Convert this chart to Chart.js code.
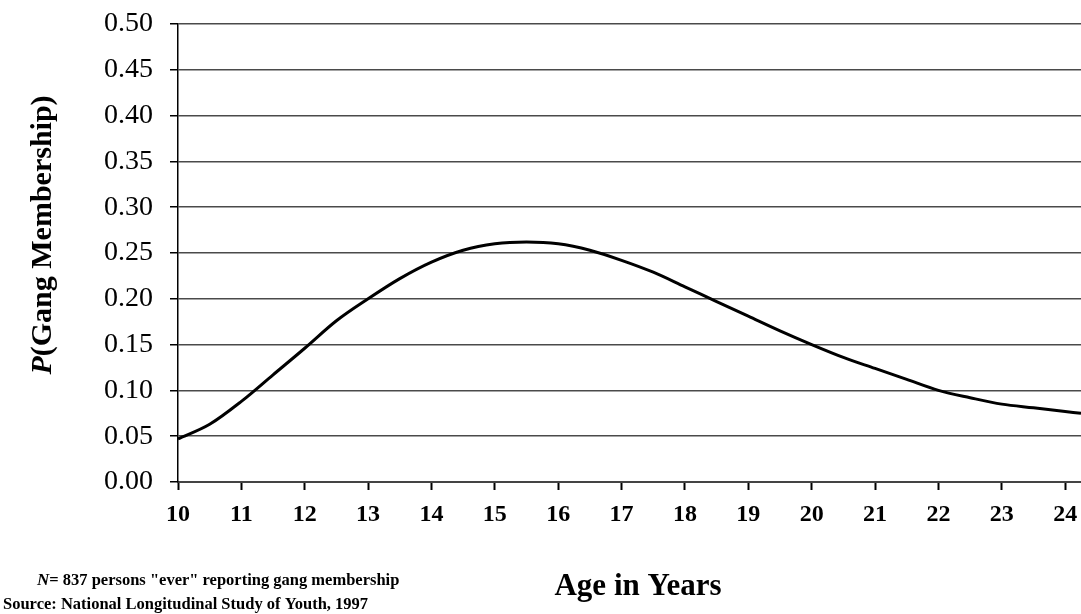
<!DOCTYPE html>
<html>
<head>
<meta charset="utf-8">
<script src="https://cdn.jsdelivr.net/npm/chart.js@4"></script>
<style>
  html, body { margin: 0; padding: 0; background: #fff; }
  #wrap { width: 1081px; height: 614px; }
</style>
</head>
<body>
<div id="wrap"><canvas id="c" width="1081" height="614"></canvas></div>
<script>
// ── DATA ─────────────────────────────────────────────────────
const ages  = [10, 10.5, 11, 11.5, 12, 12.5, 13, 13.5, 14, 14.5, 15, 15.5, 16, 16.5, 17,
               17.5, 18, 18.5, 19, 19.5, 20, 20.5, 21, 21.5, 22, 22.5, 23, 23.5, 24, 24.25];
const probs = [0.047, 0.063, 0.088, 0.117, 0.146, 0.176, 0.200, 0.222, 0.240, 0.253, 0.260, 0.262,
               0.260, 0.253, 0.242, 0.229, 0.213, 0.197, 0.181, 0.165, 0.150, 0.136, 0.124, 0.112,
               0.100, 0.092, 0.085, 0.081, 0.077, 0.075];
const xTicks = [10, 11, 12, 13, 14, 15, 16, 17, 18, 19, 20, 21, 22, 23, 24];
const yTicks = [0, 0.05, 0.10, 0.15, 0.20, 0.25, 0.30, 0.35, 0.40, 0.45, 0.50];

const SERIF = '"Liberation Serif", "Times New Roman", serif';

// ── TEXT PLUGIN (titles + footnote) ──────────────────────────
function mixedText(ctx, parts, x, y, align) {
  // parts: [[text, font], ...]
  let total = 0;
  parts.forEach(p => { ctx.font = p[1]; total += ctx.measureText(p[0]).width; });
  let cx = align === 'center' ? x - total / 2 : x;
  ctx.textAlign = 'left';
  parts.forEach(p => {
    ctx.font = p[1];
    ctx.fillText(p[0], cx, y);
    cx += ctx.measureText(p[0]).width;
  });
}

const textPlugin = {
  id: 'texts',
  afterDraw(chart) {
    const ctx = chart.ctx;
    ctx.save();
    ctx.fillStyle = '#000';
    ctx.textBaseline = 'middle';

    // y title
    ctx.save();
    ctx.translate(43, 235);
    ctx.rotate(-Math.PI / 2);
    mixedText(ctx, [['P', 'italic bold 30px ' + SERIF], ['(Gang Membership)', 'bold 30px ' + SERIF]], 0, 0, 'center');
    ctx.restore();

    // x title
    mixedText(ctx, [['Age in Years', 'bold 31px ' + SERIF]], 638, 587, 'center');

    // footnote
    mixedText(ctx, [['N', 'italic bold 17px ' + SERIF],
                    ['= 837 persons "ever" reporting gang membership', 'bold 16.5px ' + SERIF]], 37, 581, 'left');
    mixedText(ctx, [['Source: National Longitudinal Study of Youth, 1997', 'bold 16.5px ' + SERIF]], 3, 605, 'left');
    ctx.restore();
  }
};

// ── CHART ────────────────────────────────────────────────────
new Chart(document.getElementById('c'), {
  type: 'line',
  data: {
    datasets: [{
      data: ages.map((a, i) => ({ x: a, y: probs[i] })),
      borderColor: '#000',
      borderWidth: 3,
      pointRadius: 0,
      fill: false,
      cubicInterpolationMode: 'monotone'
    }]
  },
  options: {
    responsive: false,
    animation: false,
    layout: { padding: { top: 24, right: 0, left: 0, bottom: 0 } },
    plugins: { legend: { display: false }, tooltip: { enabled: false } },
    scales: {
      x: {
        type: 'linear',
        min: 10, max: 24.25,
        afterFit: s => { s.height = 132; s.paddingLeft = 0; s.paddingRight = 0; },
        afterBuildTicks: s => { s.ticks = xTicks.map(v => ({ value: v })); },
        grid: { drawOnChartArea: false, drawTicks: true, tickLength: 8, color: '#000', tickWidth: 2 },
        border: { color: '#444', width: 2 },
        ticks: {
          color: '#000', padding: 10,
          font: { family: SERIF, size: 24, weight: 'bold' },
          callback: v => String(v)
        }
      },
      y: {
        min: 0, max: 0.5,
        afterFit: s => { s.width = 178; s.paddingTop = 0; s.paddingBottom = 0; },
        afterBuildTicks: s => { s.ticks = yTicks.map(v => ({ value: v })); },
        grid: { color: '#4a4a4a', lineWidth: 1.5, tickLength: 8, tickColor: '#000' },
        border: { color: '#000', width: 1.5 },
        ticks: {
          color: '#000', padding: 17,
          font: { family: SERIF, size: 28 },
          callback: v => v.toFixed(2)
        }
      }
    }
  },
  plugins: [textPlugin]
});
</script>
</body>
</html>
